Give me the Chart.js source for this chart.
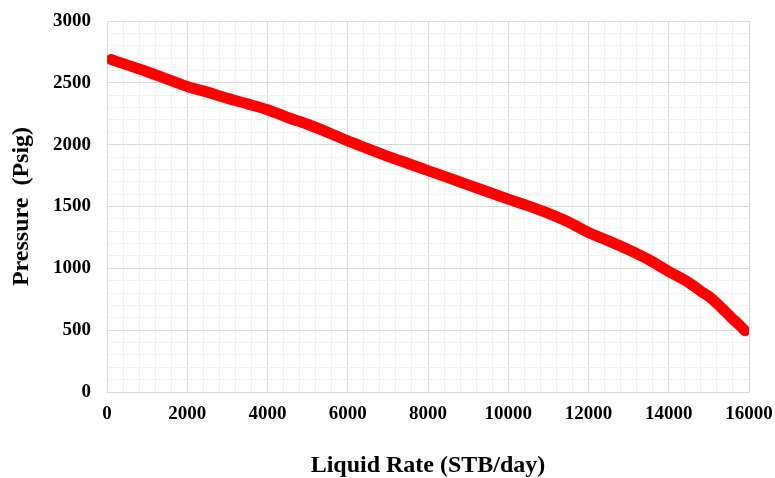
<!DOCTYPE html>
<html>
<head>
<meta charset="utf-8">
<script src="https://cdn.jsdelivr.net/npm/chart.js@4"></script>
<style>
html,body{margin:0;padding:0;background:#fff;}
#wrap{width:775px;height:478px;position:relative;}
</style>
</head>
<body>
<div id="wrap"><canvas id="c"></canvas></div>
<script>
const liquidRate = [100, 500, 1000, 1500, 2000, 2500, 3000, 3500, 4000, 4500, 5000, 5500, 6000, 6500, 7000, 7500, 8000, 8500, 9000, 9500, 10000, 10500, 11000, 11500, 12000, 12500, 13000, 13500, 14000, 14500, 14800, 15050, 15300, 15550, 15750, 15900];
const pressure = [2688, 2645, 2590, 2530, 2470, 2425, 2375, 2330, 2283, 2220, 2165, 2100, 2030, 1968, 1905, 1848, 1790, 1733, 1675, 1617, 1560, 1505, 1445, 1375, 1290, 1222, 1150, 1070, 975, 885, 815, 760, 685, 605, 545, 495];
const xTitle = 'Liquid Rate (STB/day)';
const yTitle = 'Pressure  (Psig)';

const points = liquidRate.map((x, i) => ({x: x, y: pressure[i]}));
const fontFam = '"Liberation Serif", "Times New Roman", serif';

new Chart(document.getElementById('c'), {
  type: 'scatter',
  data: {
    datasets: [{
      data: points,
      showLine: true,
      borderColor: '#ff0000',
      backgroundColor: '#ff0000',
      borderWidth: 11,
      borderCapStyle: 'round',
      borderJoinStyle: 'round',
      pointRadius: 0,
      cubicInterpolationMode: 'monotone'
    }]
  },
  options: {
    responsive: true,
    maintainAspectRatio: false,
    animation: false,
    layout: {padding: {left: 0, right: 26, top: 21, bottom: 0}},
    plugins: {legend: {display: false}, tooltip: {enabled: false}},
    scales: {
      x: {
        type: 'linear', min: 0, max: 16000,
        afterBuildTicks: (s) => { const t = []; for (let v = 0; v <= 16000; v += 400) t.push({value: v}); s.ticks = t; },
        afterFit: (s) => { s.height = 86; s.paddingLeft = 0; s.paddingRight = 0; },
        ticks: {
          autoSkip: false, maxRotation: 0, padding: 11, color: '#000',
          font: {family: fontFam, size: 19, weight: 'bold'},
          callback: (v) => (v % 2000 === 0 ? String(v) : '')
        },
        grid: {
          drawTicks: false,
          color: (ctx) => (ctx.tick && ctx.tick.value % 2000 === 0 ? '#d9d9d9' : '#f0f0f0'),
          lineWidth: 1
        },
        border: {color: '#d9d9d9'},
        title: {display: true, text: xTitle, color: '#000', font: {family: fontFam, size: 24, weight: 'bold', lineHeight: 1}, padding: {top: 0, bottom: 0}}
      },
      y: {
        type: 'linear', min: 0, max: 3000,
        afterBuildTicks: (s) => { const t = []; for (let v = 0; v <= 3000; v += 100) t.push({value: v}); s.ticks = t; },
        afterFit: (s) => { s.width = 107; s.paddingTop = 0; s.paddingBottom = 0; },
        ticks: {
          autoSkip: false, padding: 16, color: '#000',
          font: {family: fontFam, size: 19, weight: 'bold'},
          callback: (v) => (v % 500 === 0 ? String(v) : '')
        },
        grid: {
          drawTicks: false,
          color: (ctx) => (ctx.tick && ctx.tick.value % 500 === 0 ? '#d9d9d9' : '#f0f0f0'),
          lineWidth: 1
        },
        border: {color: '#d9d9d9'},
        title: {display: true, text: yTitle, color: '#000', font: {family: fontFam, size: 24, weight: 'bold', lineHeight: 1}, padding: {top: 10, bottom: 0}}
      }
    }
  }
});
</script>
</body>
</html>
